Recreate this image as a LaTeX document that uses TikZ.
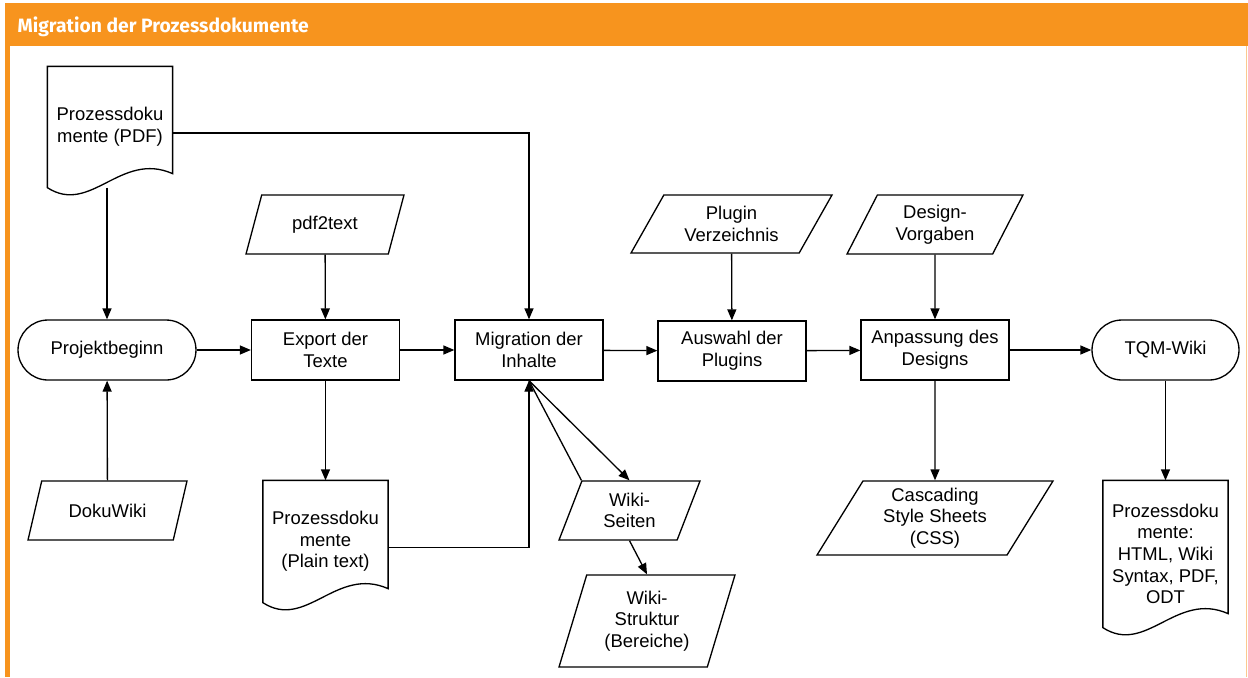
\documentclass[tikz,border=0pt]{standalone}
\usepackage{fontspec}
\setmainfont{Liberation Sans}
\newfontfamily\titelfont{Fira Sans}
\usetikzlibrary{arrows.meta,shapes.geometric,calc}
\definecolor{kopforange}{RGB}{247,148,30}

\newcommand{\dokrand}[1]{%
  \draw (#1.north west) -- (#1.north east) -- ($(#1.south east)+(0,-14)$)
    .. controls ($(#1.south east)+(-52,-37)$) and ($(#1.south east)+(-82,28)$) .. (#1.south west) -- cycle;}

\tikzset{
  prozess/.style={draw, minimum width=2.96cm, minimum height=1.2cm, align=center},
  terminal/.style={draw, rounded corners=0.6cm, minimum height=1.2cm, align=center},
  eingabe/.style={draw, trapezium, trapezium left angle=#1, trapezium right angle={180-#1},
    trapezium stretches body, align=center},
  dokument/.style={minimum width=2.48cm, align=center},
  pfeil/.style={-{Triangle[length=0.22cm,width=0.18cm]}}
}

\begin{document}
\begin{tikzpicture}[x=0.02cm, y=-0.02cm, line width=0.75pt,
  every node/.style={font=\fontsize{10.5pt}{12.3pt}\selectfont}]
\useasboundingbox (0,0) rectangle (1248,677);

\fill [kopforange] (5,3) rectangle (1248,46);
\fill [kopforange] (5,46) rectangle (10,677);
\draw [kopforange!50, line width=0.6pt] (1246.5,46) -- (1246.5,677);
\node [anchor=base west, inner sep=0pt, text=white, font=\titelfont\bfseries\fontsize{11pt}{13pt}\selectfont] (titel) at (17,32) {Migration der Prozessdokumente};

\node [dokument, minimum height=2.4cm] (pdf) at (110,127) {Prozessdoku\\mente (PDF)};
\node [terminal, minimum width=3.56cm] (projekt) at (107,350) {Projektbeginn};
\node [eingabe=61.5, minimum width=3.18cm, minimum height=1.18cm] (dokuwiki) at (107.5,510.5) {DokuWiki};

\node [eingabe=61.5, minimum width=3.16cm, minimum height=1.18cm] (pdftext) at (325,224.5) {pdf2text};
\node [prozess] (export) at (325.5,350) {Export der\\Texte};
\node [dokument, minimum height=2.42cm] (klartext) at (325.5,541.5) {Prozessdoku\\mente\\(Plain text)};

\node [prozess] (migration) at (529,350) {Migration der\\Inhalte};
\node [eingabe=64, minimum width=2.82cm, minimum height=1.18cm] (seiten) at (629.5,510.5) {Wiki-\\Seiten};
\node [eingabe=69, minimum width=3.52cm, minimum height=1.84cm] (struktur) at (647,621) {Wiki-\\Struktur\\(Bereiche)};

\node [eingabe=55, minimum width=4.02cm, minimum height=1.16cm] (plugins) at (731.5,224) {Plugin\\Verzeichnis};
\node [prozess] (auswahl) at (732,351) {Auswahl der\\Plugins};

\node [eingabe=59, minimum width=3.52cm, minimum height=1.18cm] (vorgaben) at (935,224.5) {Design-\\Vorgaben};
\node [prozess] (anpassung) at (935,350) {Anpassung des\\Designs};
\node [eingabe=57.5, minimum width=4.72cm, minimum height=1.48cm] (css) at (935,518) {Cascading\\Style Sheets\\(CSS)};

\node [terminal, minimum width=2.94cm] (tqm) at (1165.5,350) {TQM-Wiki};
\node [dokument, minimum height=2.92cm] (ausgabe) at (1165.5,554) {Prozessdoku\\mente:\\HTML, Wiki\\Syntax, PDF,\\ODT};

\dokrand{pdf}
\dokrand{klartext}
\dokrand{ausgabe}

\draw [pfeil] (projekt.north |- pdf.south) -- (projekt);
\draw [pfeil] ([yshift=-0.12cm]pdf.east) -| (migration);
\draw [pfeil] (dokuwiki) -- (projekt);
\draw [pfeil] (pdftext) -- (export);
\draw [pfeil] (projekt) -- (export);
\draw [pfeil] (export) -- (migration);
\draw [pfeil] (export) -- (klartext);
\draw [pfeil] ([yshift=-0.12cm]klartext.east) -| (migration);
\draw [pfeil] (migration.south) -- (seiten.north);
\draw (seiten.top left corner) -- (migration.south);
\draw [pfeil] (seiten.south) -- (struktur.north);
\draw [pfeil] (migration) -- (auswahl);
\draw [pfeil] (plugins) -- (auswahl);
\draw [pfeil] (auswahl) -- (anpassung);
\draw [pfeil] (vorgaben) -- (anpassung);
\draw [pfeil] (anpassung) -- (css);
\draw [pfeil] (anpassung) -- (tqm);
\draw [pfeil] (tqm) -- (ausgabe);
\end{tikzpicture}
\end{document}
